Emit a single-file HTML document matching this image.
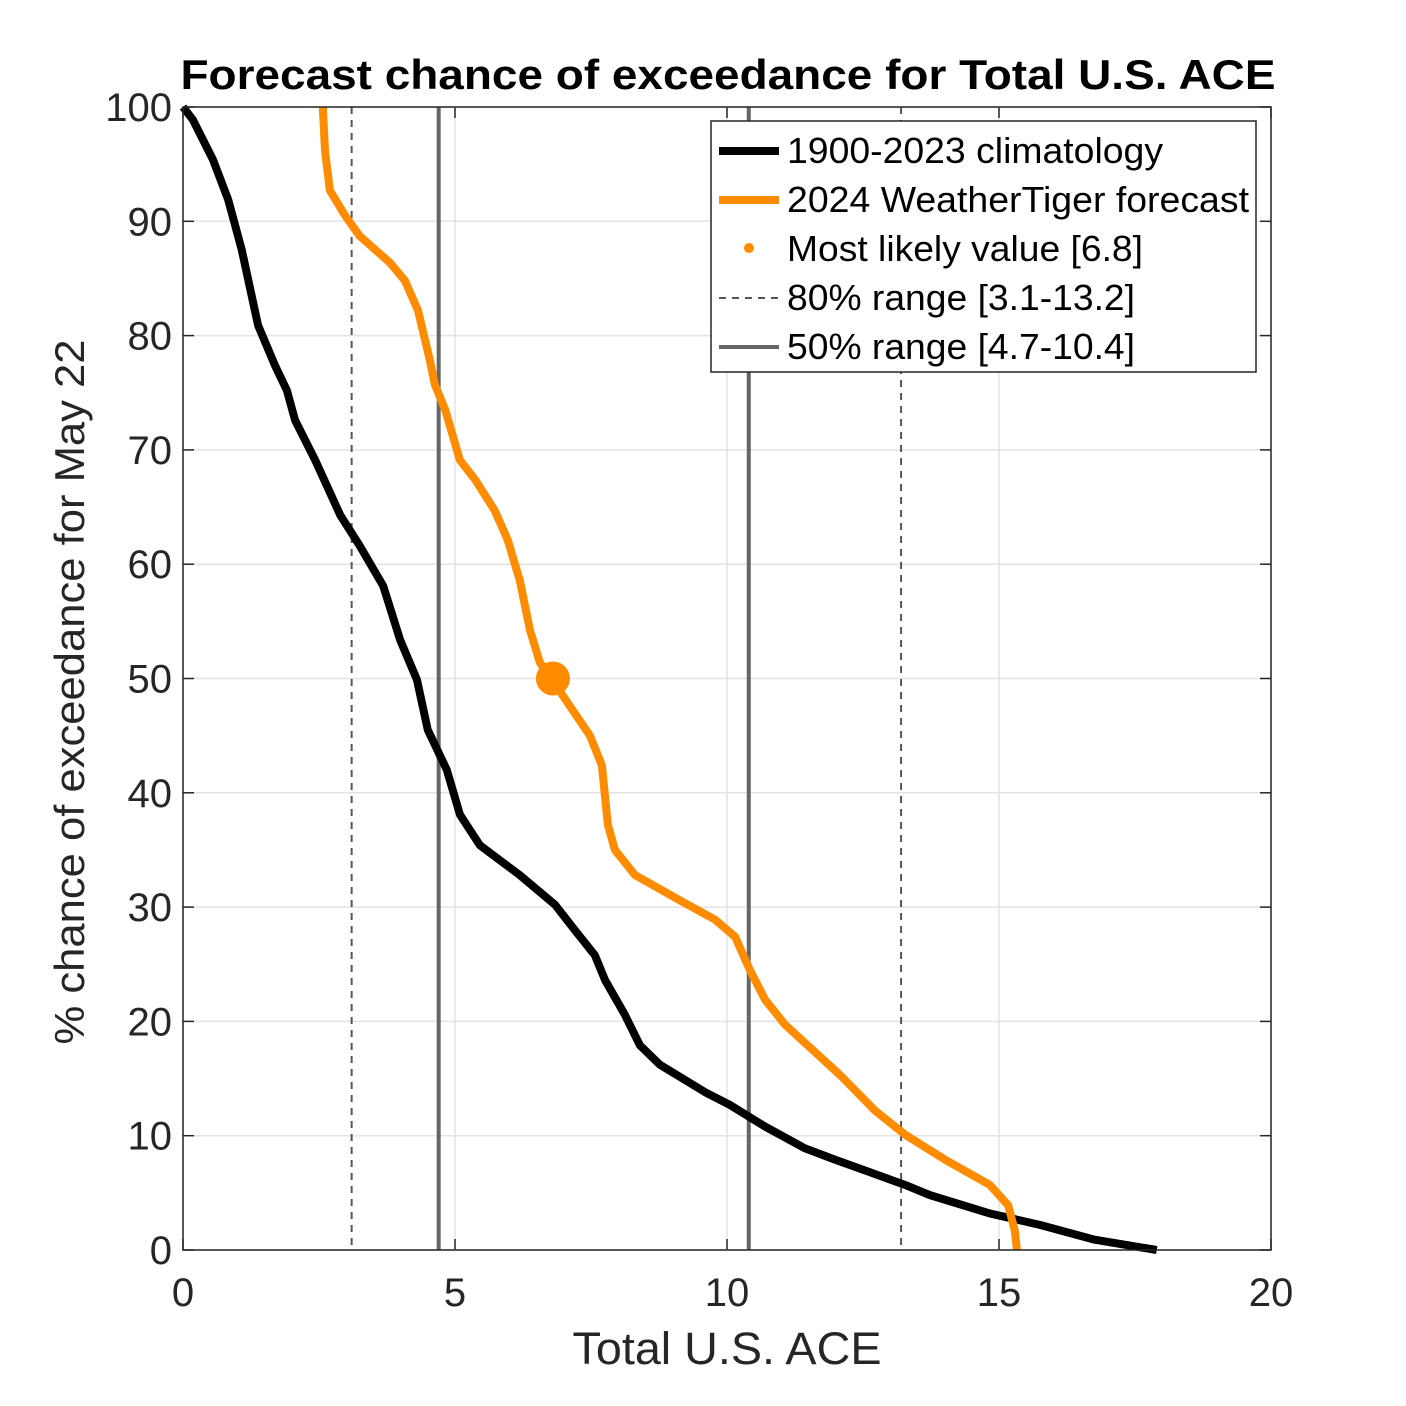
<!DOCTYPE html>
<html><head><meta charset="utf-8"><style>body{margin:0;background:#fff}svg{display:block;font-family:"Liberation Sans",Arial,sans-serif}</style></head>
<body>
<svg id="c" width="1406" height="1406">
<rect width="1406" height="1406" fill="#fff"/>
</svg>
<script>
const climX=[0,0.18,0.55,0.83,1.08,1.38,1.69,1.91,2.06,2.43,2.89,3.25,3.68,3.99,4.30,4.50,4.85,5.09,5.46,6.19,6.84,7.2,7.57,7.76,8.12,8.40,8.77,9.6,10.05,10.70,11.43,11.99,12.63,13.27,13.73,14.83,15.75,16.76,17.9];
const climY=[100,98.9,95.4,91.9,87.5,80.9,77.4,75.2,72.6,69.1,64.3,61.6,58.1,53.4,49.9,45.5,42.0,38.1,35.4,32.8,30.2,28.0,25.8,23.6,20.6,17.9,16.2,13.8,12.7,10.8,8.9,7.9,6.8,5.7,4.8,3.2,2.2,0.9,0];
const fcX=[2.57,2.61,2.70,2.98,3.25,3.80,4.08,4.32,4.54,4.63,4.82,5.09,5.37,5.73,5.97,6.19,6.38,6.56,6.77,7.11,7.48,7.70,7.81,7.94,8.31,9.13,9.78,10.15,10.42,10.70,11.07,12.08,12.72,13.27,14.01,14.83,15.17,15.29,15.33];
const fcY=[100,96.2,92.7,90.5,88.7,86.4,84.8,82.2,77.8,75.7,73.5,69.1,67.4,64.7,62.1,58.6,54.2,51.4,50,47.6,45.0,42.4,37.2,35.0,32.8,30.6,28.9,27.4,24.5,21.9,19.7,15.3,12.2,10.1,7.9,5.7,3.9,1.7,0];
const mostLikely=[6.8,50];
const range80=[3.1,13.2];
const range50=[4.7,10.4];
const xTicks=[0,5,10,15,20];
const yTicks=[0,10,20,30,40,50,60,70,80,90,100];
const L=183,R=1271,T=107,B=1250;
const sx=v=>L+(R-L)*v/20, sy=v=>B-(B-T)*v/100;
const svg=document.getElementById('c');
function el(t,a,txt){const e=document.createElementNS('http://www.w3.org/2000/svg',t);for(const k in a)e.setAttribute(k,a[k]);if(txt!==undefined)e.textContent=txt;svg.appendChild(e);return e;}
for(const v of xTicks){
 const g=el('line',{x1:sx(v),x2:sx(v),y1:T,y2:B,stroke:'#e3e3e3','stroke-width':1.5});
 
 
 const t=el('text',{x:sx(v),y:1306,'font-size':40,'text-anchor':'middle',fill:'#262626'},v);
 
 
 el('line',{x1:sx(v),x2:sx(v),y1:B,y2:B-11,stroke:'#262626','stroke-width':1.5});
 el('line',{x1:sx(v),x2:sx(v),y1:T,y2:T+11,stroke:'#262626','stroke-width':1.5});
}
for(const v of yTicks){
 const g=el('line',{x1:L,x2:R,y1:sy(v),y2:sy(v),stroke:'#e3e3e3','stroke-width':1.5});
 
 
 const t=el('text',{x:172,y:sy(v)+14,'font-size':40,'text-anchor':'end',fill:'#262626'},v);
 
 
 el('line',{x1:L,x2:L+11,y1:sy(v),y2:sy(v),stroke:'#262626','stroke-width':1.5});
 el('line',{x1:R,x2:R-11,y1:sy(v),y2:sy(v),stroke:'#262626','stroke-width':1.5});
}
for(const v of range80){
 const l=el('line',{x1:sx(v),x2:sx(v),y1:T,y2:B,stroke:'#555','stroke-width':2,'stroke-dasharray':'7,6'});
 
 
}
for(const v of range50){
 const l=el('line',{x1:sx(v),x2:sx(v),y1:T,y2:B,stroke:'#666','stroke-width':4});
 
 
}
const pc=el('polyline',{points:climX.map((x,i)=>sx(x)+','+sy(climY[i])).join(' '),fill:'none',stroke:'#000','stroke-width':8,'stroke-linejoin':'round'});


const pf=el('polyline',{points:fcX.map((x,i)=>sx(x)+','+sy(fcY[i])).join(' '),fill:'none',stroke:'#ff8c00','stroke-width':8,'stroke-linejoin':'round'});


const ml=el('circle',{cx:sx(mostLikely[0]),cy:sy(mostLikely[1]),r:17,fill:'#ff8c00'});


el('rect',{x:L,y:T,width:R-L,height:B-T,fill:'none',stroke:'#262626','stroke-width':1.5});
</script>
<div style="position:absolute;left:0;top:0;width:1406px;height:1406px;pointer-events:none">
<svg width="1406" height="1406" style="font-family:'Liberation Sans',Arial,sans-serif">
<text x="728" y="89" font-size="42" font-weight="bold" text-anchor="middle" fill="#000" textLength="1095" lengthAdjust="spacingAndGlyphs">Forecast chance of exceedance for Total U.S. ACE</text>
<text x="727" y="1364" font-size="45" text-anchor="middle" fill="#262626" textLength="309" lengthAdjust="spacingAndGlyphs">Total U.S. ACE</text>
<text transform="translate(84,692) rotate(-90)" font-size="42" text-anchor="middle" fill="#262626" textLength="705" lengthAdjust="spacingAndGlyphs">% chance of exceedance for May 22</text>
<g>
<rect x="711" y="121" width="545" height="251" fill="#fff" stroke="#262626" stroke-width="1.5"/>
<line x1="719" x2="779" y1="151" y2="151" stroke="#000" stroke-width="8"/>
<text x="787" y="163" font-size="36" fill="#000" textLength="376" lengthAdjust="spacingAndGlyphs">1900-2023 climatology</text>
<line x1="719" x2="779" y1="200" y2="200" stroke="#ff8c00" stroke-width="8"/>
<text x="787" y="212" font-size="36" fill="#000" textLength="462" lengthAdjust="spacingAndGlyphs">2024 WeatherTiger forecast</text>
<circle cx="749" cy="248" r="5" fill="#ff8c00"/>
<text x="787" y="261" font-size="36" fill="#000" textLength="356" lengthAdjust="spacingAndGlyphs">Most likely value [6.8]</text>
<line x1="719" x2="779" y1="298" y2="298" stroke="#555" stroke-width="2" stroke-dasharray="7,6"/>
<text x="787" y="310" font-size="36" fill="#000" textLength="348" lengthAdjust="spacingAndGlyphs">80% range [3.1-13.2]</text>
<line x1="719" x2="779" y1="347" y2="347" stroke="#666" stroke-width="4"/>
<text x="787" y="359" font-size="36" fill="#000" textLength="348" lengthAdjust="spacingAndGlyphs">50% range [4.7-10.4]</text>
</g>
</svg></div>
</body></html>
